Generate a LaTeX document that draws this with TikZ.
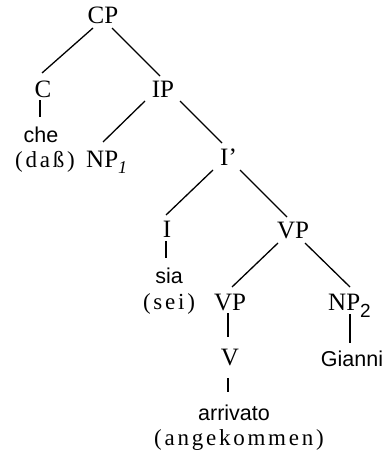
\documentclass[tikz,border=0pt]{standalone}
\usepackage{fontspec}
\setmainfont{Liberation Serif}
\newfontfamily\sansf{Liberation Sans}
\newfontfamily\spacedf[LetterSpace=12]{Liberation Serif}
\newfontfamily\widef[LetterSpace=10]{Liberation Serif}
\begin{document}
\begin{tikzpicture}[x=1pt,y=-1pt,
  cat/.style={inner sep=0pt,anchor=base,font=\fontsize{25}{27}\selectfont},
  catw/.style={inner sep=0pt,anchor=base west,font=\fontsize{25}{27}\selectfont},
  word/.style={inner sep=0pt,anchor=base,font=\fontsize{21.5}{24}\sansf},
  gloss/.style={inner sep=0pt,anchor=base,font=\fontsize{23}{25}\spacedf},
  edge/.style={line width=1.3pt}]
\useasboundingbox (0,0) rectangle (385,452);
\node[cat] (CP) at (103,24) {CP};
\node[cat] (C) at (43,97) {C};
\node[cat] (IP) at (163,97) {{\widef I}P};
\node[word] (che) at (41,142) {che};
\node[gloss] (dass) at (45,167) {(daß)};
\node[catw] (NP1) at (86,167) {NP\raisebox{-6pt}{\fontsize{18}{18}\selectfont\itshape 1}};
\node[catw] (Ib) at (220,165) {I’};
\node[cat] (I) at (167,237) {I};
\node[cat] (VP) at (293,238) {{\widef V}P};
\node[word] (sia) at (169,283) {sia};
\node[gloss] (sei) at (169,309) {(sei)};
\node[cat] (VP2) at (230,310) {{\widef V}P};
\node[catw] (NP2) at (328,310) {NP\raisebox{-7pt}{\fontsize{19}{19}\sansf 2}};
\node[cat] (V) at (230,365) {V};
\node[word] (Gianni) at (352,366) {Gianni};
\node[word] (arr) at (234,420) {arrivato};
\node[gloss] (ang) at (239,445) {(angekommen)};
\draw[edge] ([shift={(-10,4)}]CP.base) -- ([shift={(-1,-24)}]C.base);
\draw[edge] ([shift={(9,4)}]CP.base) -- ([shift={(-3,-21)}]IP.base);
\draw[edge] ([shift={(-3,3)}]C.base) -- ([shift={(-1,-25)}]che.base);
\draw[edge] ([shift={(-18,4)}]IP.base) -- ([shift={(17,-25)}]NP1.base west);
\draw[edge] ([shift={(17,4)}]IP.base) -- ([shift={(2,-22)}]Ib.base west);
\draw[edge] ([shift={(-7,5)}]Ib.base west) -- ([shift={(-1,-22)}]I.base);
\draw[edge] ([shift={(20,5)}]Ib.base west) -- ([shift={(-6,-21)}]VP.base);
\draw[edge] ([shift={(-1,4)}]I.base) -- ([shift={(-3,-25)}]sia.base);
\draw[edge] ([shift={(-15,5)}]VP.base) -- ([shift={(2,-23)}]VP2.base);
\draw[edge] ([shift={(12,5)}]VP.base) -- ([shift={(22,-23)}]NP2.base west);
\draw[edge] ([shift={(-2,3)}]VP2.base) -- ([shift={(-2,-28)}]V.base);
\draw[edge] ([shift={(-2,13)}]V.base) -- ([shift={(-6,-28)}]arr.base);
\draw[edge] ([shift={(22,4)}]NP2.base west) -- ([shift={(-2,-23)}]Gianni.base);
\end{tikzpicture}
\end{document}
